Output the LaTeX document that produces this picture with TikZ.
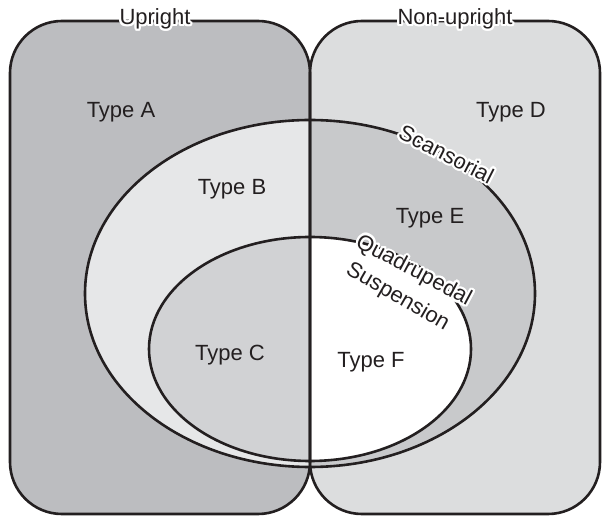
\documentclass[tikz,border=0pt]{standalone}
\usepackage{fontspec}
\setmainfont{Liberation Sans}
\usepackage[copies]{contour}
\contourlength{2.2pt}
\contournumber{16}
\definecolor{upL}{HTML}{BCBDC0}
\definecolor{upR}{HTML}{DCDDDE}
\definecolor{outL}{HTML}{E6E7E8}
\definecolor{outR}{HTML}{C8C9CB}
\definecolor{inL}{HTML}{D1D2D4}
\definecolor{ink}{HTML}{231F20}
\begin{document}
\begin{tikzpicture}[x=1pt,y=-1pt,line width=2.6pt,
  lbl/.style={font=\fontsize{22}{24}\selectfont,text=ink,inner sep=0pt},
  boxline/.style={draw=ink,rounded corners=52pt}]
\useasboundingbox (0,0) rectangle (605,518);
\fill[upL,rounded corners=52pt] (10,21) rectangle (310,514);
\fill[upR,rounded corners=52pt] (310,21) rectangle (600,514);
\begin{scope}
  \clip (0,0) rectangle (310,518);
  \fill[outL] (310,293.5) ellipse [x radius=225, y radius=173.5];
  \fill[inL] (310,349) ellipse [x radius=161, y radius=112];
\end{scope}
\begin{scope}
  \clip (310,0) rectangle (605,518);
  \fill[outR] (310,293.5) ellipse [x radius=225, y radius=173.5];
  \fill[white] (310,349) ellipse [x radius=161, y radius=112];
\end{scope}
\draw[boxline] (10,21) rectangle (310,514);
\draw[boxline] (310,21) rectangle (600,514);
\draw[ink] (310,293.5) ellipse [x radius=225, y radius=173.5];
\draw[ink] (310,349) ellipse [x radius=161, y radius=112];
\node[lbl] (upright) at (155,20) {\contour{white}{Upright}};
\node[lbl] (nonupright) at (455,20) {\contour{white}{Non-upright}};
\node[lbl] (typeA) at (121,112) {Type A};
\node[lbl] (typeD) at (511,112) {Type D};
\node[lbl] (typeB) at (232,189) {Type B};
\node[lbl] (typeE) at (430,218) {Type E};
\node[lbl] (typeC) at (230,355) {Type C};
\node[lbl] (typeF) at (371,362) {Type F};
\node[lbl,rotate=-27] (scans) at (446,155) {\contour{white}{Scansorial}};
\node[lbl,rotate=-28] (quad) at (413,272) {\contour{white}{Quadrupedal}};
\node[lbl,rotate=-30] (susp) at (397,298) {\contour{white}{Suspension}};
\end{tikzpicture}
\end{document}
